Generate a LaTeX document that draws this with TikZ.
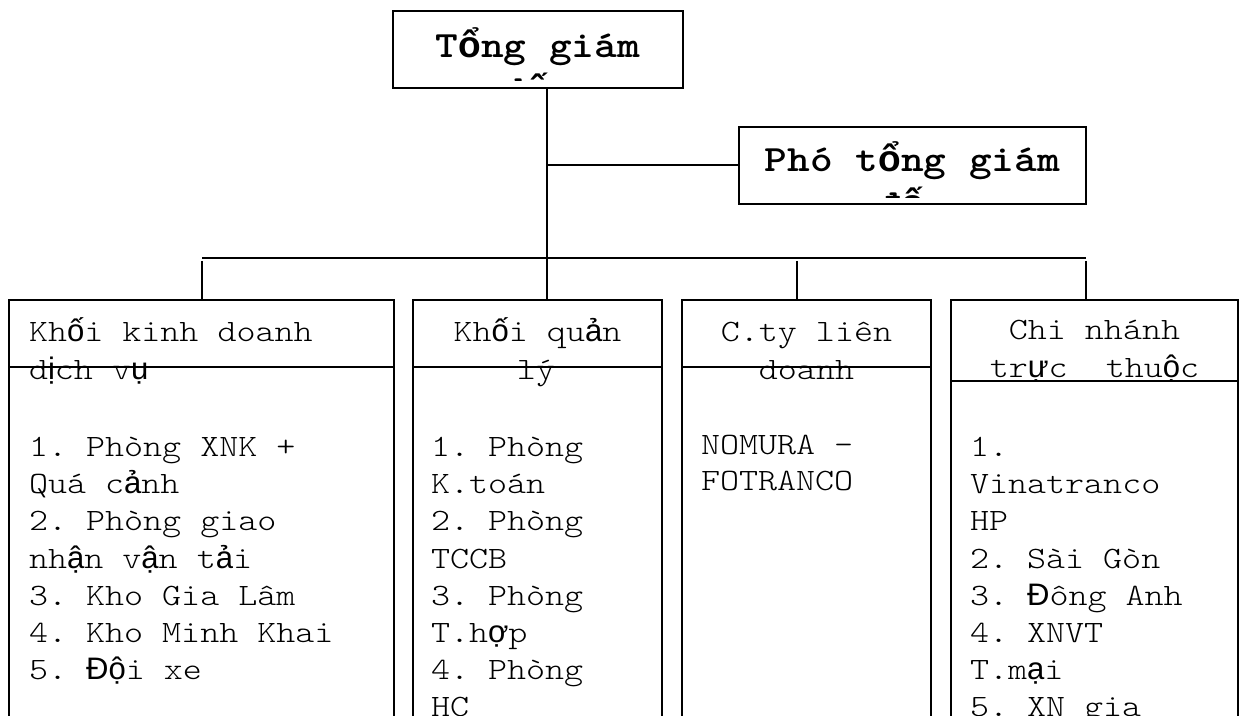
\documentclass[tikz,border=0pt]{standalone}
\usepackage{fontspec}
\setmainfont{Liberation Mono}
\newfontfamily\cour{lmmonolt10-regular.otf}[FakeStretch=1.167]
\newfontfamily\courb{lmmonolt10-bold.otf}[FakeStretch=1.167]
\newfontfamily\vsans{Liberation Sans}
\newfontfamily\vsansb{Liberation Sans Bold}
\newcommand{\V}[1]{{\vsans #1}}
\newcommand{\VB}[1]{{\vsansb #1}}
\frenchspacing
\begin{document}
\begin{tikzpicture}[x=0.75pt,y=-0.75pt,
  box/.style={draw, line width=2pt, inner sep=0pt, outer sep=0pt, anchor=north west},
  ln/.style={line width=1.5pt},
  dv/.style={line width=2pt},
  body/.style={inner sep=0pt, outer sep=0pt, font=\cour\fontsize{23.3pt}{28pt}\selectfont},
  ttl/.style={inner sep=0pt, outer sep=0pt, anchor=base, font=\courb\fontsize{27.8pt}{33pt}\selectfont}
]
\useasboundingbox (0,0) rectangle (1242,716);
\fill[white] (0,0) rectangle (1242,716);
\begin{scope}
\clip (0,0) rectangle (1242,716);

% top boxes
\node[box, minimum width=290*0.75pt, minimum height=77*0.75pt] (tgd) at (393,11) {};
\begin{scope}
  \clip (393,11) rectangle (683,81);
  \node[ttl] (tgd1) at (538,58) {T\VB{ổ}ng giám};
  \node[ttl] (tgd2) at (538,102) {đ\VB{ố}c};
\end{scope}

\node[box, minimum width=347*0.75pt, minimum height=77*0.75pt] (ptgd) at (739,127) {};
\begin{scope}
  \clip (739,127) rectangle (1086,198);
  \node[ttl] (ptgd1) at (912.5,172) {Phó t\VB{ổ}ng giám};
  \node[ttl] (ptgd2) at (912.5,216) {đ\VB{ố}c};
\end{scope}

% lower boxes
\node[box, minimum width=385*0.75pt, minimum height=460*0.75pt] (b1) at (9,300) {};
\node[box, minimum width=249*0.75pt, minimum height=460*0.75pt] (b2) at (413,300) {};
\node[box, minimum width=249*0.75pt, minimum height=460*0.75pt] (b3) at (682,300) {};
\node[box, minimum width=287*0.75pt, minimum height=460*0.75pt] (b4) at (951,300) {};

% dividers
\coordinate (h1) at (0,367);
\coordinate (h4) at (0,381);
\draw[dv] (b1.west |- h1) -- (b1.east |- h1);
\draw[dv] (b2.west |- h1) -- (b2.east |- h1);
\draw[dv] (b3.west |- h1) -- (b3.east |- h1);
\draw[dv] (b4.west |- h4) -- (b4.east |- h4);

% connectors
\coordinate (trunk) at (547,0);
\coordinate (busL) at (202,258);
\coordinate (busR) at (1086,258);
\coordinate (d1) at (202,261);
\coordinate (d3) at (797,261);
\coordinate (d4) at (1086,261);
\draw[ln] (tgd.south -| trunk) -- (b2.north -| trunk);
\draw[ln] (ptgd.west) -- (ptgd.west -| trunk);
\draw[ln] (busL) -- (busR);
\draw[ln] (d1) -- (d1 |- b1.north);
\draw[ln] (d3) -- (d3 |- b3.north);
\draw[ln] (d4) -- (d4 |- b4.north);

% headers
\node[body, anchor=base west] (h1a) at (29,342) {Kh\V{ố}i kinh doanh};
\node[body, anchor=base west] (h1b) at (29,380) {d\V{ị}ch v\V{ụ}};
\node[body, anchor=base] (h2a) at (537.5,342) {Kh\V{ố}i qu\V{ả}n};
\node[body, anchor=base] (h2b) at (536,380) {lý};
\node[body, anchor=base] (h3a) at (806.5,342) {C.ty liên};
\node[body, anchor=base] (h3b) at (806.5,380) {doanh};
\node[body, anchor=base] (h4a) at (1094.5,340) {Chi nhánh};
\node[body, anchor=base] (h4b) at (1094.5,378) {tr\V{ự}c~~thu\V{ộ}c};

% bodies
\foreach \t [count=\i] in {1. Phòng XNK +, {Quá c\V{ả}nh}, 2. Phòng giao, {nh\V{ậ}n v\V{ậ}n t\V{ả}i}, 3. Kho Gia Lâm, 4. Kho Minh Khai, {5. \V{Độ}i xe}}
  \node[body, anchor=base west] (bA\i) at (29,{456.5+37.2*(\i-1)}) {\t};
\foreach \t [count=\i] in {1. Phòng, K.toán, 2. Phòng, TCCB, 3. Phòng, {T.h\V{ợ}p}, 4. Phòng, HC}
  \node[body, anchor=base west] (bB\i) at (431,{456.5+37.2*(\i-1)}) {\t};
\node[body, anchor=base west] (bC1) at (701,454) {NOMURA -};
\node[body, anchor=base west] (bC2) at (701,490) {FOTRANCO};
\foreach \t [count=\i] in {1., Vinatranco, HP, 2. Sài Gòn, {3. \V{Đ}ông Anh}, 4. XNVT, {T.m\V{ạ}i}, 5. XN gia}
  \node[body, anchor=base west] (bD\i) at (970,{456.5+37.2*(\i-1)}) {\t};
\end{scope}
\end{tikzpicture}
\end{document}
